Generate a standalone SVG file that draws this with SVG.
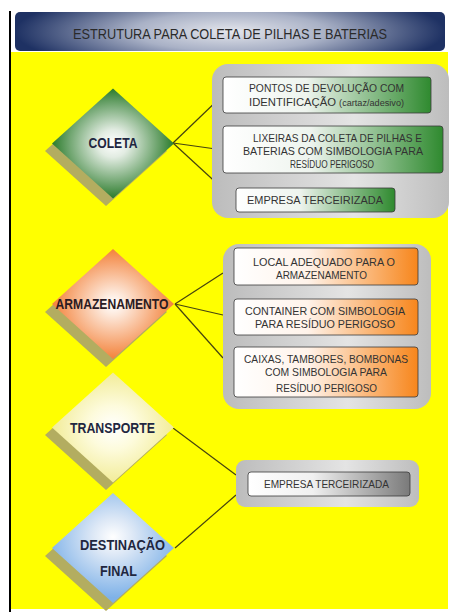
<svg xmlns="http://www.w3.org/2000/svg" width="452" height="612" viewBox="0 0 452 612">
<defs>
<style>
.t{font-family:"Liberation Sans",Arial,sans-serif;text-anchor:middle}
.title{font-size:15px;fill:#2a2a2a}
.dl{font-size:15px;font-weight:bold;fill:#1f2740}
.bx{font-size:10.5px;fill:#333}
.bx2{font-size:11px;fill:#333}
.con{stroke:#45430f;stroke-width:1.2;fill:none}
.shadow{fill:#b3ad60}
.box{stroke:#3a3a3a;stroke-width:0.8}
</style>
<radialGradient id="gBanner" cx="0.5" cy="0.5" r="0.5" gradientTransform="translate(0.5 0.5) scale(1 2.2) translate(-0.5 -0.5)">
<stop offset="0" stop-color="#e4e6ec"/>
<stop offset="0.45" stop-color="#a9b1c6"/>
<stop offset="1" stop-color="#1e3163"/>
</radialGradient>
<radialGradient id="gGreen" cx="0.5" cy="0.5" r="0.5">
<stop offset="0" stop-color="#ffffff"/>
<stop offset="0.25" stop-color="#e2ece2"/>
<stop offset="1" stop-color="#2b7b2b"/>
</radialGradient>
<radialGradient id="gOrange" cx="0.5" cy="0.5" r="0.5">
<stop offset="0" stop-color="#ffffff"/>
<stop offset="0.2" stop-color="#fde9dc"/>
<stop offset="1" stop-color="#f3823a"/>
</radialGradient>
<radialGradient id="gYel" cx="0.5" cy="0.5" r="0.5">
<stop offset="0" stop-color="#ffffff"/>
<stop offset="0.4" stop-color="#fdfbdc"/>
<stop offset="1" stop-color="#f2ec98"/>
</radialGradient>
<radialGradient id="gBlue" cx="0.5" cy="0.4" r="0.55">
<stop offset="0" stop-color="#ffffff"/>
<stop offset="0.3" stop-color="#dde8f6"/>
<stop offset="1" stop-color="#7fb2e8"/>
</radialGradient>
<linearGradient id="gGray" x1="0" y1="0" x2="1" y2="0">
<stop offset="0" stop-color="#bcbcbc"/>
<stop offset="0.6" stop-color="#e4e4e4"/>
<stop offset="1" stop-color="#bdbdbd"/>
</linearGradient>
<linearGradient id="bGreen" x1="0" y1="0" x2="1" y2="0">
<stop offset="0" stop-color="#ffffff"/>
<stop offset="0.4" stop-color="#eef4ee"/>
<stop offset="1" stop-color="#2f8a2f"/>
</linearGradient>
<linearGradient id="bOrange" x1="0" y1="0" x2="1" y2="0">
<stop offset="0" stop-color="#ffffff"/>
<stop offset="0.4" stop-color="#fff3ea"/>
<stop offset="1" stop-color="#f7861c"/>
</linearGradient>
<linearGradient id="bGray" x1="0" y1="0" x2="1" y2="0">
<stop offset="0" stop-color="#ffffff"/>
<stop offset="0.4" stop-color="#f0f0f0"/>
<stop offset="1" stop-color="#7a7a7a"/>
</linearGradient>
</defs>

<rect x="0" y="0" width="452" height="612" fill="#ffffff"/>
<rect x="11" y="52" width="437" height="557" fill="#ffff00"/>
<rect x="9" y="11" width="2" height="601" fill="#000000"/>

<g id="banner">
<rect x="15" y="12" width="430" height="39" rx="5" fill="url(#gBanner)"/>
<text class="t title" x="230" y="38.5" textLength="314" lengthAdjust="spacingAndGlyphs">ESTRUTURA PARA COLETA DE PILHAS E BATERIAS</text>
</g>

<g id="connectors">
<line class="con" x1="173" y1="143" x2="223" y2="95"/>
<line class="con" x1="173" y1="143" x2="223" y2="150"/>
<line class="con" x1="173" y1="143" x2="235" y2="200"/>
<line class="con" x1="175" y1="304" x2="223" y2="273"/>
<line class="con" x1="175" y1="304" x2="223" y2="315"/>
<line class="con" x1="175" y1="304" x2="223" y2="358"/>
<line class="con" x1="173" y1="428" x2="236" y2="475"/>
<line class="con" x1="175" y1="548" x2="236" y2="495"/>
</g>

<g id="coleta">
<polygon class="shadow" points="106,96 167,151 106,206 45,151"/>
<polygon points="113,88.5 174,143.5 113,198.5 52,143.5" fill="url(#gGreen)"/>
<text class="t dl" x="113" y="147.5" textLength="49" lengthAdjust="spacingAndGlyphs">COLETA</text>
</g>

<g id="coleta-group">
<rect x="212" y="64" width="237" height="154" rx="16" fill="url(#gGray)"/>
</g>
<g id="coleta-1">
<rect class="box" x="223" y="77" width="208" height="36" rx="3" fill="url(#bGreen)"/>
<text class="t bx" x="326.5" y="91.5" textLength="155" lengthAdjust="spacingAndGlyphs">PONTOS DE DEVOLUÇÃO COM</text>
<text class="t bx" x="326.5" y="105.5" textLength="155" lengthAdjust="spacingAndGlyphs">IDENTIFICAÇÃO <tspan font-size="8.5">(cartaz/adesivo)</tspan></text>
</g>
<g id="coleta-2">
<rect class="box" x="223" y="126" width="220" height="47" rx="3" fill="url(#bGreen)"/>
<text class="t bx" x="337.5" y="142" textLength="169" lengthAdjust="spacingAndGlyphs">LIXEIRAS DA COLETA DE PILHAS E</text>
<text class="t bx" x="333" y="155" textLength="180" lengthAdjust="spacingAndGlyphs">BATERIAS COM SIMBOLOGIA PARA</text>
<text class="t bx" x="332" y="168" textLength="84" lengthAdjust="spacingAndGlyphs">RESÍDUO PERIGOSO</text>
</g>
<g id="coleta-3">
<rect class="box" x="236" y="188" width="159" height="24" rx="3" fill="url(#bGreen)"/>
<text class="t bx" x="315" y="203.5" textLength="136" lengthAdjust="spacingAndGlyphs">EMPRESA TERCEIRIZADA</text>
</g>

<g id="armazenamento">
<polygon class="shadow" points="106,257 167,312 106,367 45,312"/>
<polygon points="113,249 174,304 113,359 52,304" fill="url(#gOrange)"/>
<text class="t dl" x="112" y="309" textLength="113" lengthAdjust="spacingAndGlyphs" style="fill:#2a1a22">ARMAZENAMENTO</text>
</g>

<g id="armazenamento-group">
<rect x="223" y="244" width="208" height="165" rx="16" fill="url(#gGray)"/>
</g>
<g id="arm-1">
<rect class="box" x="234" y="248" width="184" height="37" rx="3" fill="url(#bOrange)"/>
<text class="t bx2" x="324" y="265.5" textLength="142" lengthAdjust="spacingAndGlyphs">LOCAL ADEQUADO PARA O</text>
<text class="t bx2" x="321.5" y="278.5" textLength="91" lengthAdjust="spacingAndGlyphs">ARMAZENAMENTO</text>
</g>
<g id="arm-2">
<rect class="box" x="234" y="299" width="184" height="36" rx="3" fill="url(#bOrange)"/>
<text class="t bx2" x="325" y="314.5" textLength="160" lengthAdjust="spacingAndGlyphs">CONTAINER COM SIMBOLOGIA</text>
<text class="t bx2" x="325" y="327.5" textLength="140" lengthAdjust="spacingAndGlyphs">PARA RESÍDUO PERIGOSO</text>
</g>
<g id="arm-3">
<rect class="box" x="234" y="347" width="184" height="50" rx="3" fill="url(#bOrange)"/>
<text class="t bx2" x="326" y="362.5" textLength="164" lengthAdjust="spacingAndGlyphs">CAIXAS, TAMBORES, BOMBONAS</text>
<text class="t bx2" x="326" y="375.5" textLength="122" lengthAdjust="spacingAndGlyphs">COM SIMBOLOGIA PARA</text>
<text class="t bx2" x="326.5" y="392" textLength="101" lengthAdjust="spacingAndGlyphs">RESÍDUO PERIGOSO</text>
</g>

<g id="transporte">
<polygon class="shadow" points="106,380 167,435 106,490 45,435"/>
<polygon points="113,372.5 174,427.5 113,482.5 52,427.5" fill="url(#gYel)"/>
<text class="t dl" x="112.5" y="432.5" textLength="85" lengthAdjust="spacingAndGlyphs">TRANSPORTE</text>
</g>

<g id="destinacao">
<polygon class="shadow" points="106,501 167,556 106,611 45,556"/>
<polygon points="113,493 174,548 113,603 52,548" fill="url(#gBlue)"/>
<text class="t dl" x="122.5" y="549.5" textLength="85" lengthAdjust="spacingAndGlyphs">DESTINAÇÃO</text>
<text class="t dl" x="118.5" y="575.5" textLength="37" lengthAdjust="spacingAndGlyphs">FINAL</text>
</g>

<g id="final-group">
<rect x="236" y="460" width="183" height="47" rx="9" fill="url(#gGray)"/>
</g>
<g id="final-1">
<rect class="box" x="248" y="472" width="162" height="24" rx="3" fill="url(#bGray)"/>
<text class="t bx2" x="326.5" y="488" textLength="125" lengthAdjust="spacingAndGlyphs">EMPRESA TERCEIRIZADA</text>
</g>
</svg>
